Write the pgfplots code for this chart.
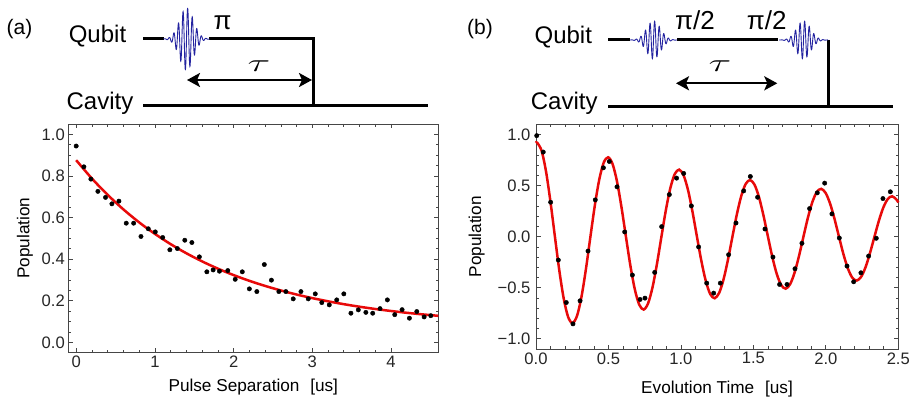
\documentclass[border=0pt]{standalone}
\usepackage{fontspec}
\setmainfont{Liberation Sans}
\usepackage{graphicx}
\usepackage{pgfplots}
\pgfplotsset{compat=1.18}
\usetikzlibrary{arrows.meta}
\definecolor{fitred}{RGB}{232,10,10}
\definecolor{pulseblue}{RGB}{35,35,160}
\definecolor{framegray}{RGB}{70,70,70}
\pgfplotsset{
  myframe/.style={
    scale only axis,
    axis line style={framegray, line width=0.8pt},
    every tick/.style={framegray, line width=0.7pt},
    tick align=inside,
    major tick length=4.5pt,
    minor tick length=2.6pt,
    /pgf/number format/assume math mode=true,
    ticklabel style={font=\fontsize{16.6}{19}\selectfont, text=black!85},
    clip=false,
  },
  fitline/.style={fitred, line width=2.5pt, smooth, no marks},
  dots/.style={only marks, mark=*, mark size=2.2pt, mark options={fill=black, draw=black, line width=0.4pt}},
}
\newcommand\lab{\fontsize{17.2}{20}\selectfont}
\newcommand\biglab{\fontsize{24}{28}\selectfont}
\begin{document}
\begin{tikzpicture}[x=1pt,y=1pt]
\path[use as bounding box] (0,0) rectangle (913,402);

% ---------------- schematic (a) ----------------
\node[anchor=base, font=\fontsize{21}{24}\selectfont] at (19.5,367) {(a)};
\node[anchor=base, font=\biglab] at (97.5,359.5) {Qubit};
\node[anchor=base, font=\biglab] at (100,292) {Cavity};
\draw[line width=3pt] (143,363) -- (164,363);
\draw[line width=3pt, line join=miter] (209,363) -- (313,363) -- (313,296);
\draw[line width=3pt] (143,296) -- (428,296);
\draw[pulseblue, line width=0.9pt] plot[domain=-23:23, samples=400] ({186.5+\x},{363+31*exp(-0.5*(\x/7)^2)*sin(360*\x/4.6)});
\node[anchor=base, font=\fontsize{26}{30}\selectfont] at (222.5,372) {π};
\node[anchor=base] at (259,330) {\fontsize{28}{30}\selectfont\scalebox{1.7}[1]{$\tau$}};
\draw[line width=2.4pt, {Stealth[length=13pt,width=14pt,inset=3pt]}-{Stealth[length=13pt,width=14pt,inset=3pt]}] (187,322) -- (312,322);

% ---------------- schematic (b) ----------------
\node[anchor=base, font=\fontsize{21}{24}\selectfont] at (480,367) {(b)};
\node[anchor=base, font=\biglab] at (563.3,358.7) {Qubit};
\node[anchor=base, font=\biglab] at (564.2,292.7) {Cavity};
\draw[line width=3pt] (608,362) -- (630,362);
\draw[line width=3pt] (677,362) -- (778,362);
\draw[line width=3pt] (828,362) -- (828,295);
\draw[line width=3pt] (608,295) -- (893,295);
\draw[pulseblue, line width=0.9pt] plot[domain=-23.5:23.5, samples=400] ({653.5+\x},{362+19*exp(-0.5*(\x/7)^2)*sin(360*\x/4.6)});
\draw[pulseblue, line width=0.9pt] plot[domain=-24.5:24.5, samples=400] ({803.5+\x},{362+19*exp(-0.5*(\x/7)^2)*sin(360*\x/4.6)});
\node[anchor=base, font=\fontsize{26}{30}\selectfont] at (695,372) {π/2};
\node[anchor=base, font=\fontsize{26}{30}\selectfont] at (766.7,372) {π/2};
\node[anchor=base] at (720,330) {\fontsize{28}{30}\selectfont\scalebox{1.7}[1]{$\tau$}};
\draw[line width=2.4pt, {Stealth[length=13pt,width=14pt,inset=3pt]}-{Stealth[length=13pt,width=14pt,inset=3pt]}] (676,318.7) -- (777.3,318.7);

% ---------------- plot (a) ----------------
\begin{axis}[myframe,
  at={(68.3pt,49.3pt)}, anchor=south west,
  width=370pt, height=228.7pt,
  xmin=-0.1, xmax=4.6, ymin=-0.05, ymax=1.05,
  xtick={0,1,2,3,4}, xticklabels={0,1,2,3,4},
  ytick={0,0.2,0.4,0.6,0.8,1.0}, yticklabels={0.0,0.2,0.4,0.6,0.8,1.0},
  minor x tick num=4, minor y tick num=3,
]
\addplot[fitline] coordinates {
(0,0.876) (0.2,0.7877) (0.4,0.7092) (0.6,0.6392) (0.8,0.5769) (1.0,0.5215)
(1.2,0.4722) (1.4,0.4282) (1.6,0.3891) (1.8,0.3543) (2.0,0.3233) (2.2,0.2957)
(2.4,0.2712) (2.6,0.2493) (2.8,0.2298) (3.0,0.2125) (3.2,0.1971) (3.4,0.1834)
(3.6,0.1711) (3.8,0.1602) (4.0,0.1506) (4.2,0.1419) (4.4,0.1343) (4.6,0.1274)};
\addplot[dots] coordinates {
(0.000,0.944) (0.098,0.844) (0.187,0.785) (0.276,0.726) (0.373,0.697)
(0.454,0.666) (0.543,0.679) (0.636,0.573) (0.730,0.573) (0.823,0.509)
(0.916,0.546) (1.005,0.531) (1.099,0.504) (1.190,0.445) (1.285,0.451)
(1.380,0.491) (1.470,0.480) (1.565,0.411) (1.660,0.339) (1.740,0.348)
(1.820,0.342) (1.926,0.345) (2.020,0.303) (2.110,0.339) (2.200,0.257)
(2.295,0.244) (2.390,0.374) (2.480,0.299) (2.575,0.244) (2.664,0.244)
(2.757,0.209) (2.855,0.244) (2.948,0.209) (3.037,0.233) (3.120,0.191)
(3.215,0.180) (3.310,0.204) (3.400,0.233) (3.490,0.140) (3.584,0.156)
(3.680,0.144) (3.767,0.140) (3.860,0.162) (3.953,0.204) (4.047,0.133)
(4.140,0.157) (4.233,0.116) (4.327,0.148) (4.420,0.122) (4.505,0.128)};
\end{axis}
\node[anchor=base, font=\lab] at (253.3,11) {Pulse Separation\hspace{0.35em} [us]};
\node[anchor=base, rotate=90, font=\lab] at (29.3,163.7) {Population};

% ---------------- plot (b) ----------------
\begin{axis}[myframe,
  at={(536pt,53pt)}, anchor=south west,
  width=362.3pt, height=224.7pt,
  xmin=0, xmax=2.5, ymin=-1.1, ymax=1.1,
  xtick={0,0.5,1,1.5,2,2.5}, xticklabels={0.0,0.5,1.0,1.5,2.0,2.5},
  ytick={-1,-0.5,0,0.5,1}, yticklabels={−1.0,−0.5,0.0,0.5,1.0},
  minor x tick num=4, minor y tick num=4,
  yticklabel style={xshift=-2pt},
]
\addplot[fitline] coordinates {
(0,0.918) (0.0080,0.9200) (0.0386,0.8410) (0.0693,0.6370) (0.0999,0.3411) (0.1305,0)
(0.1611,-0.3340) (0.1918,-0.6106) (0.2224,-0.7894) (0.2530,-0.8455) (0.2836,-0.7729)
(0.3143,-0.5853) (0.3449,-0.3135) (0.3755,0) (0.4061,0.3069) (0.4368,0.5612)
(0.4674,0.7254) (0.4980,0.7770) (0.5286,0.7103) (0.5593,0.5379) (0.5899,0.2881)
(0.6205,0) (0.6511,-0.2821) (0.6818,-0.5156) (0.7124,-0.6666) (0.7430,-0.7140)
(0.7736,-0.6527) (0.8043,-0.4943) (0.8349,-0.2647) (0.8655,0) (0.8961,0.2592)
(0.9268,0.4739) (0.9574,0.6126) (0.9880,0.6562) (1.0186,0.5999) (1.0493,0.4542)
(1.0799,0.2433) (1.1105,0) (1.1411,-0.2382) (1.1718,-0.4354) (1.2024,-0.5629)
(1.2330,-0.6030) (1.2636,-0.5512) (1.2943,-0.4175) (1.3249,-0.2235) (1.3555,0)
(1.3861,0.2189) (1.4168,0.4002) (1.4474,0.5174) (1.4780,0.5542) (1.5086,0.5066)
(1.5393,0.3836) (1.5699,0.2054) (1.6005,0) (1.6311,-0.2011) (1.6618,-0.3677)
(1.6924,-0.4754) (1.7230,-0.5092) (1.7536,-0.4655) (1.7843,-0.3526) (1.8149,-0.1888)
(1.8455,0) (1.8761,0.1849) (1.9068,0.3380) (1.9374,0.4369) (1.9680,0.4680)
(1.9986,0.4278) (2.0293,0.3239) (2.0599,0.1735) (2.0905,0) (2.1211,-0.1699)
(2.1518,-0.3105) (2.1824,-0.4015) (2.2130,-0.4300) (2.2436,-0.3931) (2.2743,-0.2978)
(2.3049,-0.1594) (2.3355,0) (2.3661,0.1561) (2.3968,0.2855) (2.4274,0.3690)
(2.4580,0.3952) (2.4886,0.3612) (2.5,0.334)};
\addplot[dots] coordinates {
(0.005,0.989) (0.050,0.828) (0.101,0.337) (0.154,-0.229) (0.209,-0.645)
(0.255,-0.854) (0.304,-0.628) (0.359,-0.141) (0.409,0.360) (0.465,0.674)
(0.506,0.736) (0.559,0.488) (0.612,0.046) (0.665,-0.376) (0.718,-0.615)
(0.752,-0.602) (0.819,-0.350) (0.867,0.098) (0.920,0.412) (0.970,0.573)
(1.019,0.619) (1.072,0.301) (1.122,-0.101) (1.178,-0.455) (1.226,-0.553)
(1.272,-0.455) (1.329,-0.177) (1.380,0.134) (1.433,0.448) (1.479,0.589)
(1.529,0.386) (1.580,0.075) (1.635,-0.200) (1.681,-0.468) (1.732,-0.468)
(1.787,-0.314) (1.835,-0.065) (1.888,0.275) (1.941,0.429) (1.992,0.524)
(2.042,0.223) (2.093,-0.013) (2.146,-0.288) (2.192,-0.442) (2.242,-0.354)
(2.295,-0.190) (2.348,-0.016) (2.394,0.373) (2.445,0.439)};
\end{axis}
\node[anchor=base, font=\lab] at (717,9) {Evolution Time\hspace{0.35em} [us]};
\node[anchor=base, rotate=90, font=\lab] at (481,165.3) {Population};
\end{tikzpicture}
\end{document}
